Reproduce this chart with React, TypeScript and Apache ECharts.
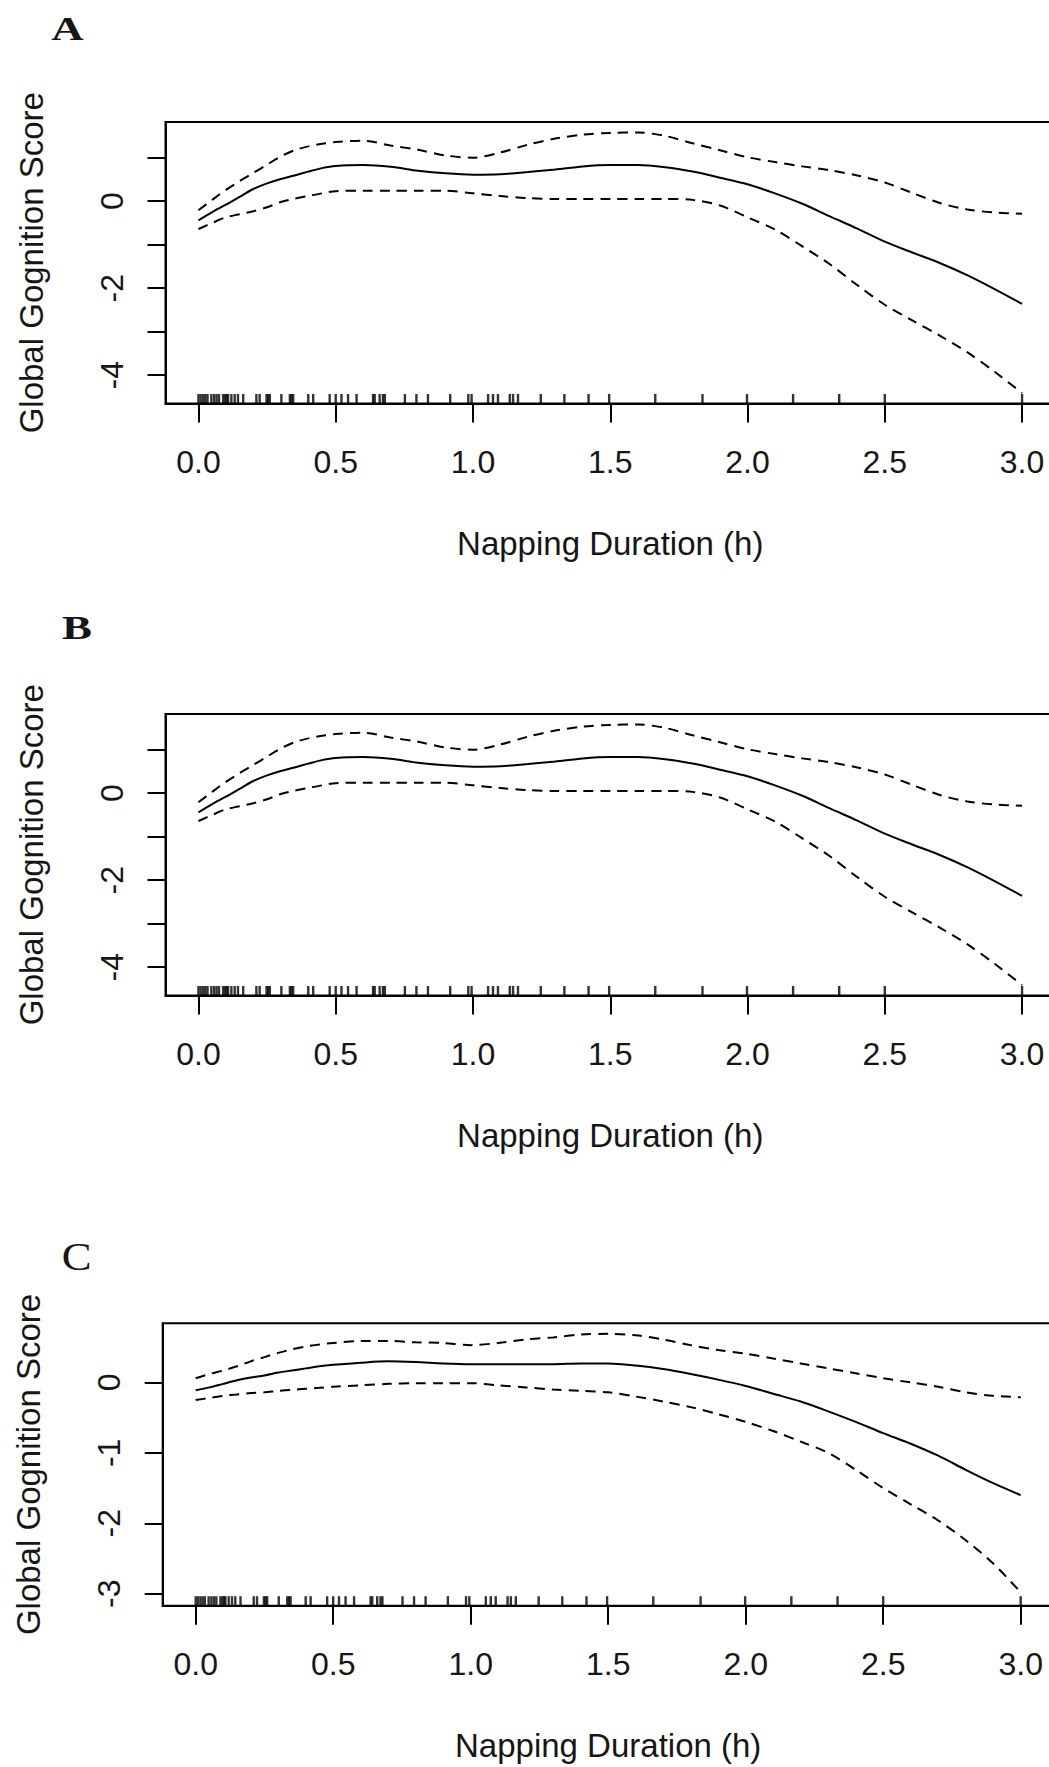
import React, { useEffect, useRef } from "react";
import * as echarts from "echarts";

// Napping duration grid (hours)
const xs = [0, 0.05, 0.1, 0.15, 0.2, 0.25, 0.3, 0.35, 0.4, 0.45, 0.5, 0.6, 0.7, 0.8, 0.9, 1.0, 1.1, 1.2, 1.3, 1.4, 1.5, 1.6, 1.7, 1.8, 1.9, 2.0, 2.1, 2.2, 2.3, 2.4, 2.5, 2.6, 2.7, 2.8, 2.9, 3.0];

// Panel A (panel B shows the same curves)
const fitA = [-0.44, -0.25, -0.08, 0.1, 0.28, 0.41, 0.51, 0.59, 0.68, 0.76, 0.81, 0.83, 0.79, 0.7, 0.64, 0.61, 0.62, 0.67, 0.73, 0.8, 0.83, 0.83, 0.78, 0.68, 0.54, 0.39, 0.18, -0.06, -0.35, -0.63, -0.93, -1.18, -1.42, -1.7, -2.02, -2.36];
const upperA = [-0.21, 0.03, 0.26, 0.46, 0.65, 0.84, 1.03, 1.17, 1.26, 1.32, 1.36, 1.39, 1.28, 1.18, 1.05, 1.0, 1.12, 1.3, 1.44, 1.53, 1.57, 1.58, 1.5, 1.33, 1.17, 1.01, 0.9, 0.8, 0.71, 0.59, 0.43, 0.19, -0.04, -0.19, -0.26, -0.29];
const lowerA = [-0.64, -0.5, -0.37, -0.3, -0.23, -0.14, -0.02, 0.06, 0.12, 0.18, 0.23, 0.24, 0.24, 0.24, 0.24, 0.18, 0.12, 0.07, 0.05, 0.05, 0.05, 0.05, 0.05, 0.03, -0.1, -0.37, -0.65, -1.04, -1.45, -1.93, -2.38, -2.74, -3.09, -3.47, -3.92, -4.41];

const fitB = fitA;
const upperB = upperA;
const lowerB = lowerA;

// Panel C
const fitC = [-0.11, -0.07, -0.02, 0.03, 0.07, 0.1, 0.14, 0.17, 0.2, 0.23, 0.25, 0.28, 0.3, 0.29, 0.27, 0.26, 0.26, 0.26, 0.26, 0.27, 0.27, 0.24, 0.19, 0.12, 0.04, -0.05, -0.16, -0.27, -0.41, -0.56, -0.72, -0.87, -1.04, -1.24, -1.43, -1.6];
const upperC = [0.06, 0.12, 0.17, 0.23, 0.3, 0.36, 0.42, 0.47, 0.51, 0.54, 0.56, 0.59, 0.59, 0.57, 0.56, 0.53, 0.56, 0.61, 0.64, 0.68, 0.69, 0.67, 0.61, 0.53, 0.46, 0.41, 0.34, 0.27, 0.2, 0.13, 0.06, 0.0, -0.06, -0.14, -0.19, -0.21];
const lowerC = [-0.25, -0.22, -0.19, -0.17, -0.15, -0.14, -0.12, -0.105, -0.09, -0.075, -0.06, -0.04, -0.02, -0.01, -0.01, -0.01, -0.04, -0.07, -0.1, -0.12, -0.14, -0.2, -0.27, -0.35, -0.45, -0.56, -0.69, -0.84, -1.0, -1.24, -1.5, -1.73, -1.96, -2.24, -2.57, -2.98];

// Observed napping durations (rug)
const rugHours = [0, 0.008, 0.017, 0.025, 0.033, 0.047, 0.057, 0.066, 0.075, 0.09, 0.097, 0.103, 0.108, 0.12, 0.132, 0.144, 0.163, 0.211, 0.223, 0.248, 0.254, 0.26, 0.302, 0.333, 0.339, 0.345, 0.4, 0.418, 0.478, 0.5, 0.521, 0.545, 0.576, 0.636, 0.642, 0.66, 0.672, 0.679, 0.752, 0.794, 0.836, 0.917, 0.983, 0.995, 1.055, 1.073, 1.091, 1.134, 1.146, 1.164, 1.247, 1.333, 1.421, 1.496, 1.664, 1.836, 1.998, 2.166, 2.334, 2.5, 3.0];

const xTicks = [0, 0.5, 1, 1.5, 2, 2.5, 3];
const yTicksAB = [-4, -3, -2, -1, 0, 1];
const yLabelsAB = [-4, -2, 0];
const yTicksC = [-3, -2, -1, 0];
const yLabelsC = [-3, -2, -1, 0];

const panelLetters = ["A", "B", "C"];
const xTitle = "Napping Duration (h)";
const yTitle = "Global Gognition Score";

export default function App() {
  const ref = useRef<HTMLDivElement>(null);
  useEffect(() => {
    if (!ref.current) return;
    const chart = echarts.init(ref.current, undefined, { renderer: "svg" });
    const black = "#000";
    const textColor = "#161616";
    const sans = "Liberation Sans, Arial, sans-serif";
    const serif = "Liberation Serif, Times New Roman, serif";

    const panels = [
      { grid: { left: 165.5, top: 122, width: 889.5, height: 281.5 }, yMin: -4.65, yMax: 1.82, yTicks: yTicksAB, yLabels: yLabelsAB, fit: fitA, upper: upperA, lower: lowerA },
      { grid: { left: 165.5, top: 714, width: 889.5, height: 281.5 }, yMin: -4.65, yMax: 1.82, yTicks: yTicksAB, yLabels: yLabelsAB, fit: fitB, upper: upperB, lower: lowerB },
      { grid: { left: 162.7, top: 1323.3, width: 891, height: 282.4 }, yMin: -3.17, yMax: 0.84, yTicks: yTicksC, yLabels: yLabelsC, fit: fitC, upper: upperC, lower: lowerC },
    ];

    const grid = panels.map((p) => ({
      ...p.grid,
      show: true,
      borderColor: black,
      borderWidth: 2,
      backgroundColor: "transparent",
      containLabel: false,
      outerBoundsMode: "none",
    }));

    const lineStyle = { color: black, width: 2 };

    const xAxis = panels.map((p, i) => ({
      type: "value",
      gridIndex: i,
      min: -0.12,
      max: 3.12,
      axisLine: { show: true, onZero: false, lineStyle },
      axisTick: { show: true, inside: false, length: 19, customValues: xTicks, lineStyle },
      axisLabel: {
        customValues: xTicks,
        formatter: (v: number) => v.toFixed(1),
        margin: 42,
        fontSize: 32,
        color: textColor,
        fontFamily: sans,
      },
      splitLine: { show: false },
      name: xTitle,
      nameLocation: "middle",
      nameGap: 123,
      nameTextStyle: { fontSize: 33, color: textColor, fontFamily: sans },
    }));

    const yAxis = panels.map((p, i) => ({
      type: "value",
      gridIndex: i,
      min: p.yMin,
      max: p.yMax,
      axisLine: { show: true, onZero: false, lineStyle },
      axisTick: { show: true, inside: false, length: 18, customValues: p.yTicks, lineStyle },
      axisLabel: {
        customValues: p.yLabels,
        formatter: (v: number) => String(v),
        rotate: 90,
        margin: 38,
        fontSize: 32,
        color: textColor,
        fontFamily: sans,
      },
      splitLine: { show: false },
      name: yTitle,
      nameLocation: "middle",
      nameRotate: 90,
      nameGap: 118,
      nameTextStyle: { fontSize: 33, color: textColor, fontFamily: sans },
    }));

    const series: any[] = [];
    panels.forEach((p, i) => {
      const mk = (vals: number[], dashed: boolean) => ({
        type: "line",
        xAxisIndex: i,
        yAxisIndex: i,
        data: xs.map((x, j) => [x, vals[j]]),
        showSymbol: false,
        symbol: "none",
        smooth: 0.3,
        silent: true,
        lineStyle: { color: black, width: 2, type: dashed ? [10, 7] : "solid" },
      });
      series.push(mk(p.upper, true));
      series.push(mk(p.fit, false));
      series.push(mk(p.lower, true));
      series.push({
        type: "scatter",
        xAxisIndex: i,
        yAxisIndex: i,
        data: rugHours.map((h) => [h, p.yMin]),
        symbol: "rect",
        symbolSize: [2.4, 9.5],
        symbolOffset: [0, -4.75],
        itemStyle: { color: black },
        clip: false,
        silent: true,
      });
    });

    const letterPos = [
      { x: 67.5, y: 29.2, size: 34, weight: "bold", sx: 1.32 },
      { x: 77, y: 627.9, size: 34, weight: "bold", sx: 1.32 },
      { x: 76.7, y: 1256.7, size: 40, weight: "normal", sx: 1.12 },
    ];
    const graphic = panelLetters.map((t, i) => ({
      type: "text",
      x: letterPos[i].x,
      y: letterPos[i].y,
      scaleX: letterPos[i].sx,
      silent: true,
      style: {
        text: t,
        fontFamily: serif,
        fontWeight: letterPos[i].weight,
        fontSize: letterPos[i].size,
        fill: textColor,
        align: "center",
        verticalAlign: "middle",
        textAlign: "center",
        textVerticalAlign: "middle",
      },
    }));

    chart.setOption({
      animation: false,
      backgroundColor: "#fff",
      graphic,
      grid,
      xAxis,
      yAxis,
      series,
    } as any);
    return () => chart.dispose();
  }, []);
  return (
    <div
      ref={ref}
      style={{ position: "absolute", left: 0, top: 0, width: 1049, height: 1767 }}
    />
  );
}
